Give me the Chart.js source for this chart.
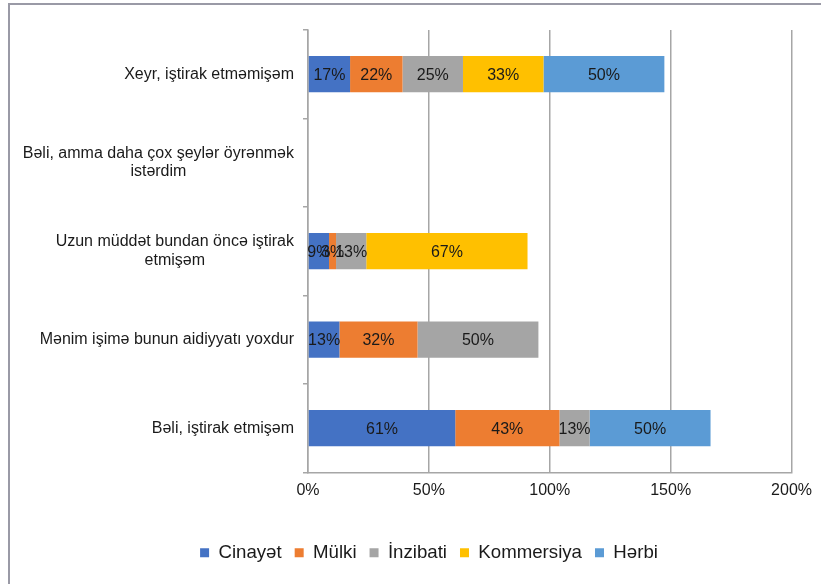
<!DOCTYPE html>
<html>
<head>
<meta charset="utf-8">
<script src="https://cdn.jsdelivr.net/npm/chart.js@4.4.1/dist/chart.umd.min.js"></script>
<style>
  html, body { margin: 0; padding: 0; background: #fff; }
</style>
</head>
<body>
<canvas id="myChart" width="821" height="584"></canvas>
<script>
'use strict';

// categories, top to bottom (each entry = lines of the label)
const categories = [
  ['Xeyr, iştirak etməmişəm'],
  ['Bəli, amma daha çox şeylər öyrənmək', 'istərdim'],
  ['Uzun müddət bundan öncə iştirak', 'etmişəm'],
  ['Mənim işimə bunun aidiyyatı yoxdur'],
  ['Bəli, iştirak etmişəm'],
];

const seriesNames = ['Cinayət', 'Mülki', 'İnzibati', 'Kommersiya', 'Hərbi'];
const seriesColors = ['#4472C4', '#ED7D31', '#A5A5A5', '#FFC000', '#5B9BD5'];

// percentages
const cinayet = [17.4, null, 8.7, 13.0, 60.9];
const mulki = [21.7, null, 2.9, 32.3, 43.1];
const inzibati = [25.0, null, 12.5, 50.0, 12.5];
const kommersiya = [33.3, null, 66.7, null, null];
const herbi = [50.0, null, null, null, 50.0];

const xTicks = [0, 50, 100, 150, 200];

const FONT = '"Liberation Sans", Arial, sans-serif';
const TEXT = '#1a1a1a';
const GRID = '#a6a6a6';

const chartCanvas = document.getElementById('myChart');

const framePlugin = {
  id: 'frame',
  beforeDraw(chart) {
    const ctx = chart.ctx;
    ctx.save();
    ctx.strokeStyle = '#9a9aa6';
    ctx.lineWidth = 2;
    ctx.beginPath();
    ctx.moveTo(9, 584);
    ctx.lineTo(9, 4);
    ctx.lineTo(821, 4);
    ctx.stroke();
    ctx.restore();
  },
};

const categoryLabels = {
  id: 'categoryLabels',
  afterDraw(chart) {
    const ctx = chart.ctx;
    const yScale = chart.scales.y;
    ctx.save();
    ctx.font = '16px ' + FONT;
    ctx.fillStyle = TEXT;
    ctx.textAlign = 'center';
    ctx.textBaseline = 'middle';
    const lineH = 18.5;
    for (let i = 0; i < categories.length; i++) {
      const lines = categories[i];
      const yc = yScale.getPixelForValue(i);
      let w = 0;
      lines.forEach(l => { w = Math.max(w, ctx.measureText(l).width); });
      const xc = chart.chartArea.left - 14 - w / 2;
      lines.forEach((l, j) => {
        ctx.fillText(l, xc, yc + (j - (lines.length - 1) / 2) * lineH);
      });
    }
    ctx.restore();
  },
};

const barLabels = {
  id: 'barLabels',
  afterDatasetsDraw(chart) {
    const ctx = chart.ctx;
    ctx.save();
    ctx.font = '16px ' + FONT;
    ctx.fillStyle = TEXT;
    ctx.textAlign = 'center';
    ctx.textBaseline = 'middle';
    chart.data.datasets.forEach((ds, di) => {
      const meta = chart.getDatasetMeta(di);
      meta.data.forEach((bar, i) => {
        const v = ds.data[i];
        if (!v) return;
        const p = bar.getProps(['x', 'y', 'base'], true);
        ctx.fillText(Math.round(v) + '%', (p.x + p.base) / 2, p.y + 1);
      });
    });
    ctx.restore();
  },
};

const seriesData = [cinayet, mulki, inzibati, kommersiya, herbi];

new Chart(chartCanvas, {
  type: 'bar',
  data: {
    labels: categories.map(c => c.join(' ')),
    datasets: seriesNames.map((name, i) => ({
      label: name,
      data: seriesData[i],
      backgroundColor: seriesColors[i],
      borderWidth: 0,
      barPercentage: 0.41,
      categoryPercentage: 1,
    })),
  },
  options: {
    indexAxis: 'y',
    responsive: false,
    animation: false,
    layout: {
      padding: { top: 30, right: 29, left: 66, bottom: 12 },
    },
    scales: {
      x: {
        stacked: true,
        min: 0,
        max: 200,
        afterBuildTicks(scale) {
          scale.ticks = xTicks.map(v => ({ value: v }));
        },
        afterFit(scale) {
          scale.height = 58;
        },
        ticks: {
          padding: 9,
          color: TEXT,
          font: { family: FONT, size: 16 },
          callback: v => v + '%',
        },
        grid: {
          color: GRID,
          lineWidth: 1.5,
          drawTicks: false,
        },
        border: { color: GRID, width: 1.5 },
      },
      y: {
        stacked: true,
        afterFit(scale) {
          scale.width = 242;
        },
        ticks: { display: false },
        grid: {
          offset: true,
          drawOnChartArea: false,
          tickLength: 5,
          color: GRID,
          lineWidth: 1.5,
        },
        border: { color: GRID, width: 1.5 },
      },
    },
    plugins: {
      tooltip: { enabled: false },
      legend: {
        position: 'bottom',
        labels: {
          boxWidth: 9,
          boxHeight: 9,
          padding: 13,
          color: TEXT,
          font: { family: FONT, size: 18.67 },
        },
      },
    },
  },
  plugins: [framePlugin, categoryLabels, barLabels],
});
</script>
</body>
</html>
